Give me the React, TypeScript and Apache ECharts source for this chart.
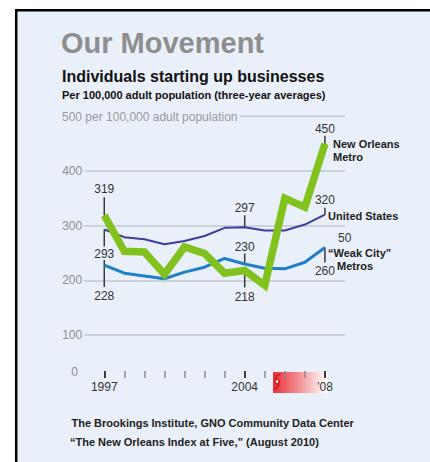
import React, { useEffect, useRef } from "react";
import * as echarts from "echarts";

const years = [1997, 1998, 1999, 2000, 2001, 2002, 2003, 2004, 2005, 2006, 2007, 2008];
const newOrleans = [319, 253, 252, 211, 261, 249, 213, 218, 191, 350, 334, 450];
const unitedStates = [293, 279, 275, 266, 272, 281, 296, 297, 291, 291, 302, 320];
const weakCity = [228, 213, 208, 203, 215, 224, 240, 230, 222, 221, 233, 260];
const yTickValues = [100, 200, 300, 400];
const majorYears = [1997, 2004, 2008];

// which points carry a value label: [series key, year]
const annotatedPoints: [string, number][] = [
  ["newOrleans", 1997],
  ["unitedStates", 1997],
  ["weakCity", 1997],
  ["unitedStates", 2004],
  ["weakCity", 2004],
  ["newOrleans", 2004],
  ["newOrleans", 2008],
  ["unitedStates", 2008],
  ["weakCity", 2008],
];

// pixel offsets (tick start, tick end, label centre) relative to each annotated point
const annotationLayout = [
  { from: -18, to: 0, label: -26 },
  { from: 0, to: 17, label: 25 },
  { from: -5, to: 22, label: 31 },
  { from: -12, to: 0, label: -19.5 },
  { from: -10.5, to: 0, label: -17 },
  { from: 0, to: 17, label: 26.5 },
  { from: -8, to: 0, label: -15 },
  { from: -7, to: 0, label: -14.5 },
  { from: 0, to: 15, label: 23 },
];

const seriesMap: Record<string, number[]> = { newOrleans, unitedStates, weakCity };
const FONT = "'Liberation Sans', Arial, Helvetica, sans-serif";

export default function App() {
  const ref = useRef<HTMLDivElement>(null);
  useEffect(() => {
    if (!ref.current) return;
    const chart = echarts.init(ref.current, undefined, { renderer: "svg" });
    const annData = annotatedPoints.map(([key, yr], i) => [yr, seriesMap[key][years.indexOf(yr)], i]);
    const gridLeft = 84.2;
    const gridWidth = 260.8;
    const option: any = {
      animation: false,
      backgroundColor: "#ffffff",
      grid: [
        { left: gridLeft, top: 116.3, width: gridWidth, height: 273.4 },
        { left: gridLeft, top: 359, width: gridWidth, height: 12 },
      ],
      xAxis: [
        { gridIndex: 0, type: "value", min: 1996, max: 2009, show: false },
        {
          gridIndex: 1, type: "value", position: "bottom", min: 1996, max: 2009, interval: 1,
          axisLine: { show: false }, splitLine: { show: false },
          axisTick: { show: true, length: 7, customValues: years.filter((y) => !majorYears.includes(y)), lineStyle: { color: "#8a8a8a", width: 1.5 } },
          axisLabel: { show: false },
        },
        {
          gridIndex: 1, type: "value", position: "bottom", offset: 0, min: 1996, max: 2009, interval: 1,
          axisLine: { show: false }, splitLine: { show: false },
          axisTick: { show: true, length: 7, customValues: majorYears, lineStyle: { color: "#3a3a3a", width: 2 } },
          axisLabel: {
            customValues: majorYears, margin: 10, fontSize: 12, color: "#333", fontFamily: FONT,
            formatter: (v: number) => (v === 2008 ? "\u201908" : String(v)),
          },
        },
      ],
      yAxis: [
        {
          gridIndex: 0, type: "value", min: 0, max: 500, interval: 100,
          axisLine: { show: false }, axisTick: { show: false },
          axisLabel: { customValues: yTickValues, margin: 2, fontSize: 12, color: "#8c8c8c", fontFamily: FONT },
          splitLine: { show: true, showMinLine: false, showMaxLine: false, lineStyle: { color: "#c3c7ce", width: 1.5 } },
        },
        { gridIndex: 1, type: "value", show: false },
      ],
      series: [
        {
          type: "custom", xAxisIndex: 0, yAxisIndex: 0, z: 1, clip: false, silent: true,
          data: annData,
          renderItem: (params: any, api: any) => {
            const i = api.value(2);
            const p = api.coord([api.value(0), api.value(1)]);
            const l = annotationLayout[i];
            return {
              type: "group",
              children: [
                { type: "line", shape: { x1: p[0], y1: p[1] + l.from, x2: p[0], y2: p[1] + l.to }, style: { stroke: "#3a3a3a", lineWidth: 1.5 } },
                { type: "text", x: p[0], y: p[1] + l.label, style: { text: String(api.value(1)), fill: "#333", fontSize: 12, fontFamily: FONT, align: "center", verticalAlign: "middle" } },
              ],
            };
          },
        },
        {
          name: "United States", type: "line", xAxisIndex: 0, yAxisIndex: 0, z: 2,
          data: years.map((y, i) => [y, unitedStates[i]]), symbol: "none",
          lineStyle: { color: "#3d3d9e", width: 2 },
        },
        {
          name: "Weak City Metros", type: "line", xAxisIndex: 0, yAxisIndex: 0, z: 3,
          data: years.map((y, i) => [y, weakCity[i]]), symbol: "none",
          lineStyle: { color: "#1f80c8", width: 3 },
        },
        {
          name: "New Orleans Metro", type: "line", xAxisIndex: 0, yAxisIndex: 0, z: 4,
          data: years.map((y, i) => [y, newOrleans[i]]), symbol: "none",
          lineStyle: { color: "#82c21f", width: 7.5, join: "miter" },
        },
      ],
      graphic: [
        { type: "rect", z: -100, shape: { x: 15, y: 9, width: 415, height: 453 }, style: { fill: "#e9f0fa" } },
        { type: "line", z: -90, shape: { x1: 16.2, y1: 9, x2: 16.2, y2: 462 }, style: { stroke: "#000", lineWidth: 2.5 } },
        { type: "line", z: -90, shape: { x1: 15, y1: 10.2, x2: 430, y2: 10.2 }, style: { stroke: "#000", lineWidth: 2.5 } },
        { type: "text", x: 61, y: 43, style: { text: "Our Movement", fill: "#8e8e8e", font: `bold 29px ${FONT}`, verticalAlign: "middle" } },
        { type: "text", x: 62, y: 76, style: { text: "Individuals starting up businesses", fill: "#111", font: `bold 16px ${FONT}`, verticalAlign: "middle" } },
        { type: "text", x: 62, y: 95, style: { text: "Per 100,000 adult population (three-year averages)", fill: "#111", font: `bold 11px ${FONT}`, verticalAlign: "middle" } },
        { type: "text", x: 62, y: 117, style: { text: "500 per 100,000 adult population", fill: "#9a9a9a", font: `12px ${FONT}`, verticalAlign: "middle" } },
        { type: "line", shape: { x1: 240, y1: 116.3, x2: 345, y2: 116.3 }, style: { stroke: "#c3c7ce", lineWidth: 1.5 } },
        { type: "text", x: 78, y: 372, style: { text: "0", fill: "#8c8c8c", font: `12px ${FONT}`, align: "right", verticalAlign: "middle" } },
        {
          type: "rect", z: -50, shape: { x: 273, y: 372, width: 55, height: 21 },
          style: {
            fill: new echarts.graphic.LinearGradient(0, 0, 1, 0, [
              { offset: 0, color: "#e8323a" },
              { offset: 0.45, color: "#f28b8f" },
              { offset: 0.8, color: "#fadadc" },
              { offset: 1, color: "#ffffff" },
            ]),
          },
        },
        { type: "bezierCurve", z: -40, shape: { x1: 276, y1: 381, cpx1: 274, cpy1: 375, x2: 280.5, y2: 374.5 }, style: { stroke: "#d81c22", lineWidth: 2, fill: "none" } },
        { type: "bezierCurve", z: -40, shape: { x1: 278, y1: 382, cpx1: 280, cpy1: 387, x2: 274, y2: 389.5 }, style: { stroke: "#d81c22", lineWidth: 2, fill: "none" } },
        { type: "circle", z: -39, shape: { cx: 277, cy: 381.5, r: 3.2 }, style: { fill: "#d81c22" } },
        { type: "circle", z: -38, shape: { cx: 277, cy: 381.5, r: 1.3 }, style: { fill: "#ffffff" } },
        { type: "text", x: 333, y: 144, style: { text: "New Orleans", fill: "#222", font: `bold 11px ${FONT}`, verticalAlign: "middle" } },
        { type: "text", x: 333, y: 157, style: { text: "Metro", fill: "#222", font: `bold 11px ${FONT}`, verticalAlign: "middle" } },
        { type: "text", x: 328, y: 216, style: { text: "United States", fill: "#222", font: `bold 11px ${FONT}`, verticalAlign: "middle" } },
        { type: "text", x: 338, y: 238, style: { text: "50", fill: "#333", font: `12px ${FONT}`, verticalAlign: "middle" } },
        { type: "text", x: 328, y: 252.5, style: { text: "\u201CWeak City\u201D", fill: "#222", font: `bold 11px ${FONT}`, verticalAlign: "middle" } },
        { type: "text", x: 337, y: 266, style: { text: "Metros", fill: "#222", font: `bold 11px ${FONT}`, verticalAlign: "middle" } },
        { type: "text", x: 71.5, y: 422.5, style: { text: "The Brookings Institute, GNO Community Data Center", fill: "#222", font: `bold 11px ${FONT}`, verticalAlign: "middle" } },
        { type: "text", x: 70, y: 441.5, style: { text: "\u201CThe New Orleans Index at Five,\u201D (August 2010)", fill: "#222", font: `bold 11px ${FONT}`, verticalAlign: "middle" } },
      ],
    };
    chart.setOption(option);
    return () => chart.dispose();
  }, []);
  return <div ref={ref} style={{ position: "absolute", left: 0, top: 0, width: 430, height: 462 }} />;
}
